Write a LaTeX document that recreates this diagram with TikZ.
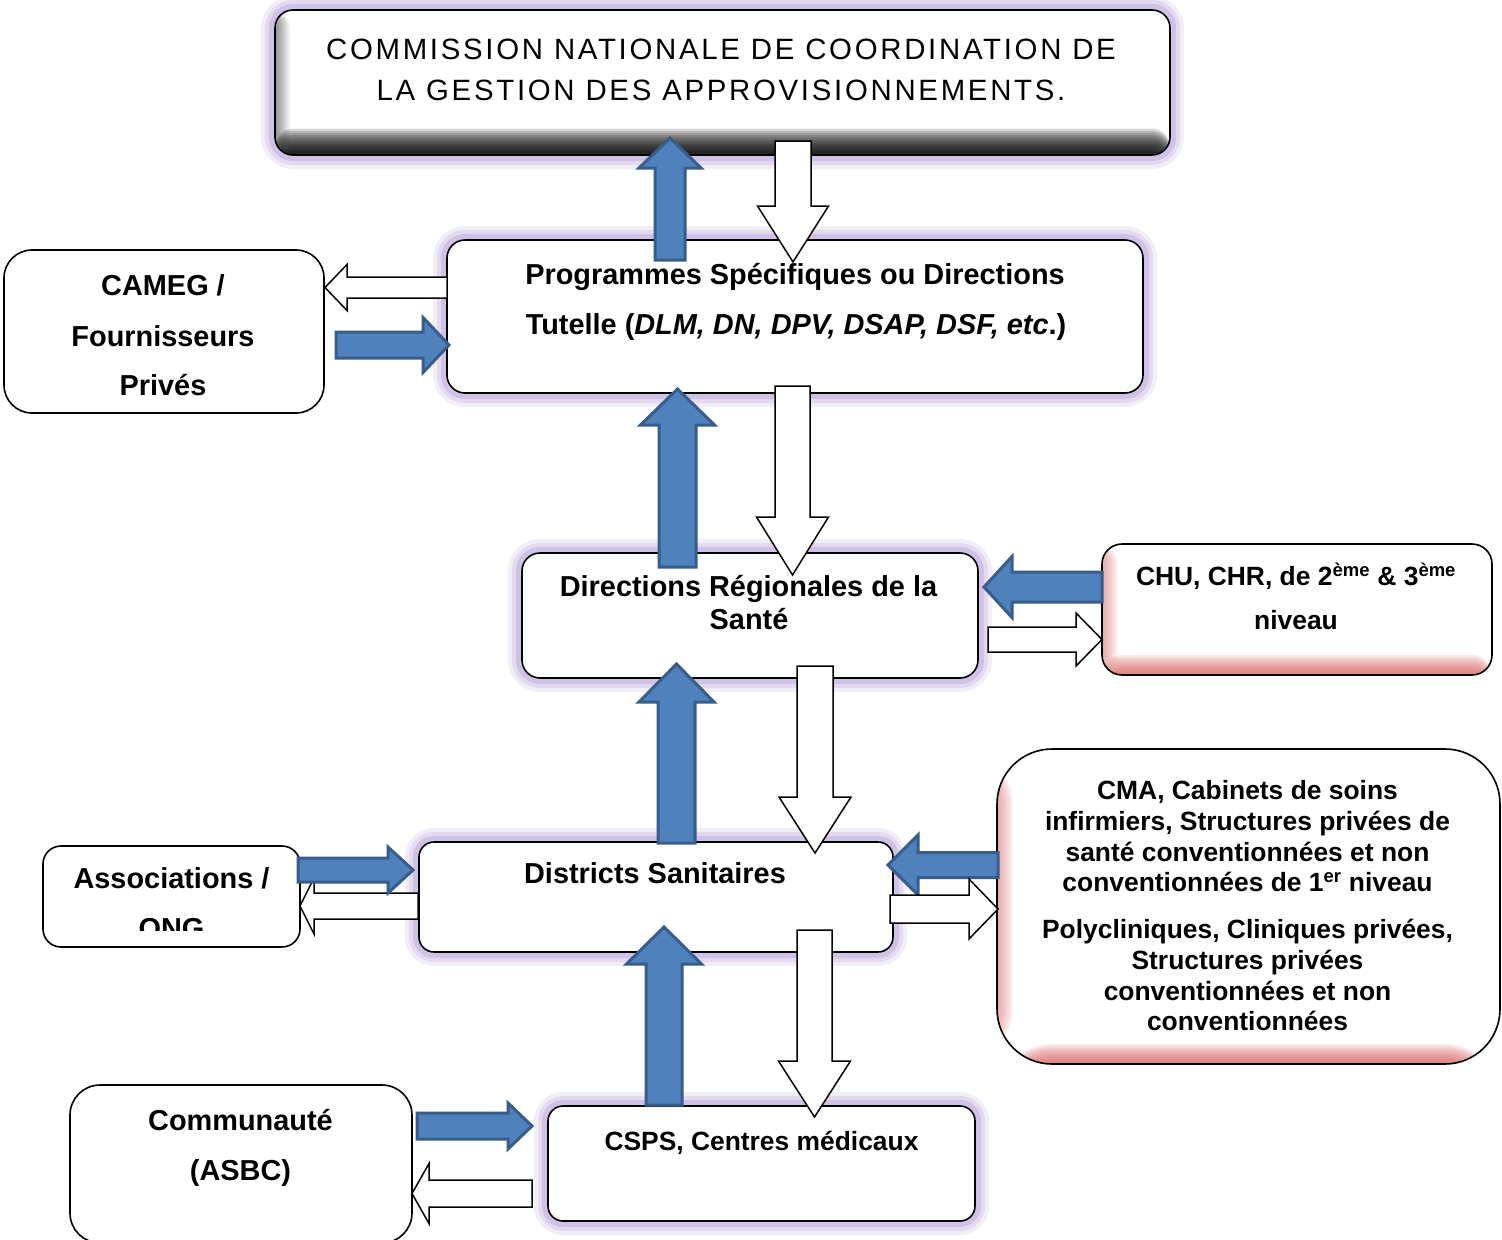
\documentclass[tikz,border=0pt]{standalone}
\usepackage{fontspec}
\setmainfont{Liberation Sans}
\definecolor{blueF}{RGB}{79,129,189}
\definecolor{blueD}{RGB}{56,93,138}
\definecolor{glowc}{RGB}{160,130,205}
\definecolor{pinkc}{RGB}{215,90,90}
% vertical block arrow: style, x centre, tail y, head-base y, tip y, shaft half width, head half width
\newcommand\blkV[7]{\path[#1] (#2-#6,#3) -- (#2-#6,#4) -- (#2-#7,#4) -- (#2,#5) -- (#2+#7,#4) -- (#2+#6,#4) -- (#2+#6,#3) -- cycle;}
% horizontal block arrow: style, y centre, tail x, head-base x, tip x, shaft half width, head half width
\newcommand\blkH[7]{\path[#1] (#3,#2-#6) -- (#4,#2-#6) -- (#4,#2-#7) -- (#5,#2) -- (#4,#2+#7) -- (#4,#2+#6) -- (#3,#2+#6) -- cycle;}
\begin{document}
\begin{tikzpicture}[x=1bp, y=-1bp,
  box/.style={draw=black, line width=1.6bp, fill=white, rectangle, inner sep=0pt},
  glow/.style={preaction={draw=glowc, line width=28bp, draw opacity=.13},
               preaction={draw=glowc, line width=20bp, draw opacity=.18},
               preaction={draw=glowc, line width=12bp, draw opacity=.28}},
  innershadow/.style={path picture={
     \foreach \k in {1,...,10} {
       \fill[black, fill opacity=.05] (path picture bounding box.south west) rectangle ([xshift={\k*1.5bp}]path picture bounding box.north west);}
     \foreach \k in {1,...,12} {
       \fill[black, fill opacity=.15] (path picture bounding box.south west) rectangle ([yshift={\k*2.2bp}]path picture bounding box.south east);}
     }},
  redglow/.style={path picture={
     \foreach \k in {1,...,8} {
       \fill[pinkc, fill opacity=.08] (path picture bounding box.south west) rectangle ([xshift={\k*2bp}]path picture bounding box.north west);}
     \foreach \k in {1,...,10} {
       \fill[pinkc, fill opacity=.12] (path picture bounding box.south west) rectangle ([yshift={\k*2bp}]path picture bounding box.south east);}
     }},
  tb/.style={anchor=base, inner sep=0pt, font=\fontsize{29}{34}\selectfont\bfseries},
  ts/.style={anchor=base, inner sep=0pt, font=\fontsize{26.5}{31}\selectfont\bfseries},
  tr/.style={anchor=base, inner sep=0pt, font=\fontsize{29.5}{35}\selectfont\addfontfeature{LetterSpace=9.2}},
  bluearr/.style={fill=blueF, draw=blueD, line width=3bp},
  whitearr/.style={fill=white, draw=black, line width=1.5bp}]
\useasboundingbox (0,0) rectangle (1502,1239);
\fill[white] (0,0) rectangle (1502,1239);
\clip (0,0) rectangle (1502,1239);

% boxes
\node[box, glow, innershadow, rounded corners=18bp, minimum width=895bp, minimum height=145bp] (comm) at (722.5,82.5) {};
\node[box, glow, rounded corners=18bp, minimum width=696bp, minimum height=153bp] (prog) at (795,316.5) {};
\node[box, rounded corners=28bp, minimum width=320bp, minimum height=163bp] (cameg) at (164,331.5) {};
\node[box, glow, rounded corners=18bp, minimum width=456bp, minimum height=125bp] (dirreg) at (750,615.5) {};
\node[box, redglow, rounded corners=20bp, minimum width=390bp, minimum height=131bp] (chu) at (1297,609.5) {};
\node[box, glow, rounded corners=15bp, minimum width=474bp, minimum height=110bp] (dist) at (656,897) {};
\node[box, rounded corners=18bp, minimum width=257bp, minimum height=101bp] (assoc) at (171.5,896.5) {};
\node[box, redglow, rounded corners=55bp, minimum width=503bp, minimum height=315bp] (cma) at (1248.5,906.5) {};
\node[box, rounded corners=30bp, minimum width=342bp, minimum height=158bp] (comu) at (241,1164) {};
\node[box, glow, rounded corners=15bp, minimum width=427bp, minimum height=115bp] (csps) at (761.5,1163.5) {};

% texts
\node[tr] (commA) at (721,59) {COMMISSION NATIONALE DE COORDINATION DE};
\node[tr] (commB) at (721,100) {LA GESTION DES APPROVISIONNEMENTS.};
\node[tb] (progA) at (795,284) {Programmes Spécifiques ou Directions};
\node[tb] (progB) at (796,334) {Tutelle (\textit{DLM, DN, DPV, DSAP, DSF, etc}.)};
\node[tb] (camegA) at (163,295) {CAMEG /};
\node[tb] (camegB) at (163,346) {Fournisseurs};
\node[tb] (camegC) at (163,395) {Privés};
\node[tb] (dirA) at (748.5,596) {Directions Régionales de la};
\node[tb] (dirB) at (749,629) {Santé};
\node[ts] (chuA) at (1296,585) {CHU, CHR, de 2\textsuperscript{ème} \& 3\textsuperscript{ème}};
\node[ts] (chuB) at (1296,629) {niveau};
\node[tb] (distA) at (655,883) {Districts Sanitaires};
\node[tb] (assocA) at (171.5,888) {Associations /};
\begin{scope}
  \clip (43,900) rectangle (300,930);
  \node[tb] (assocB) at (171.5,938) {ONG};
\end{scope}
\node[ts] (cmaA) at (1247.5,799) {CMA, Cabinets de soins};
\node[ts] (cmaB) at (1247.5,830) {infirmiers, Structures privées de};
\node[ts] (cmaC) at (1247.5,861) {santé conventionnées et non};
\node[ts] (cmaD) at (1247.5,891) {conventionnées de 1\textsuperscript{er} niveau};
\node[ts] (cmaE) at (1247.5,938) {Polycliniques, Cliniques privées,};
\node[ts] (cmaF) at (1247.5,969) {Structures privées};
\node[ts] (cmaG) at (1247.5,1000) {conventionnées et non};
\node[ts] (cmaH) at (1247.5,1030) {conventionnées};
\node[tb] (comuA) at (240.5,1130) {Communauté};
\node[tb] (comuB) at (240.5,1180) {(ASBC)};
\node[ts] (cspsA) at (761.5,1150) {CSPS, Centres médicaux};

% vertical arrows
\blkV{bluearr}{670}{260}{168}{138}{15}{31}
\blkV{bluearr}{677.5}{567}{425}{389}{18.5}{37}
\blkV{bluearr}{676.5}{843}{702}{664}{18.5}{37.5}
\blkV{bluearr}{664}{1105}{964}{927}{18}{37.5}
\blkV{whitearr}{793}{141}{206}{262}{18}{35.5}
\blkV{whitearr}{792.5}{386}{517}{575}{17.5}{36}
\blkV{whitearr}{815}{666}{797}{853}{18}{36}
\blkV{whitearr}{814.5}{930}{1061}{1117}{17.5}{36}

% horizontal arrows
\blkH{whitearr}{287.5}{447}{347}{325}{10.5}{23}
\blkH{bluearr}{345}{336}{423}{449}{13}{27.5}
\blkH{bluearr}{587}{1102}{1012}{984}{15}{30.5}
\blkH{whitearr}{639.5}{988}{1076}{1102}{12.5}{26.5}
\blkH{whitearr}{906}{418}{314}{300}{13}{28}
\blkH{bluearr}{870}{298}{388}{413}{12}{23}
\blkH{bluearr}{865}{998}{918}{888}{12.5}{30}
\blkH{whitearr}{909}{890}{969}{998}{14}{30}
\blkH{bluearr}{1126}{417}{508}{532}{13}{23}
\blkH{whitearr}{1193.5}{532}{429}{412}{13.5}{30}
\end{tikzpicture}
\end{document}
